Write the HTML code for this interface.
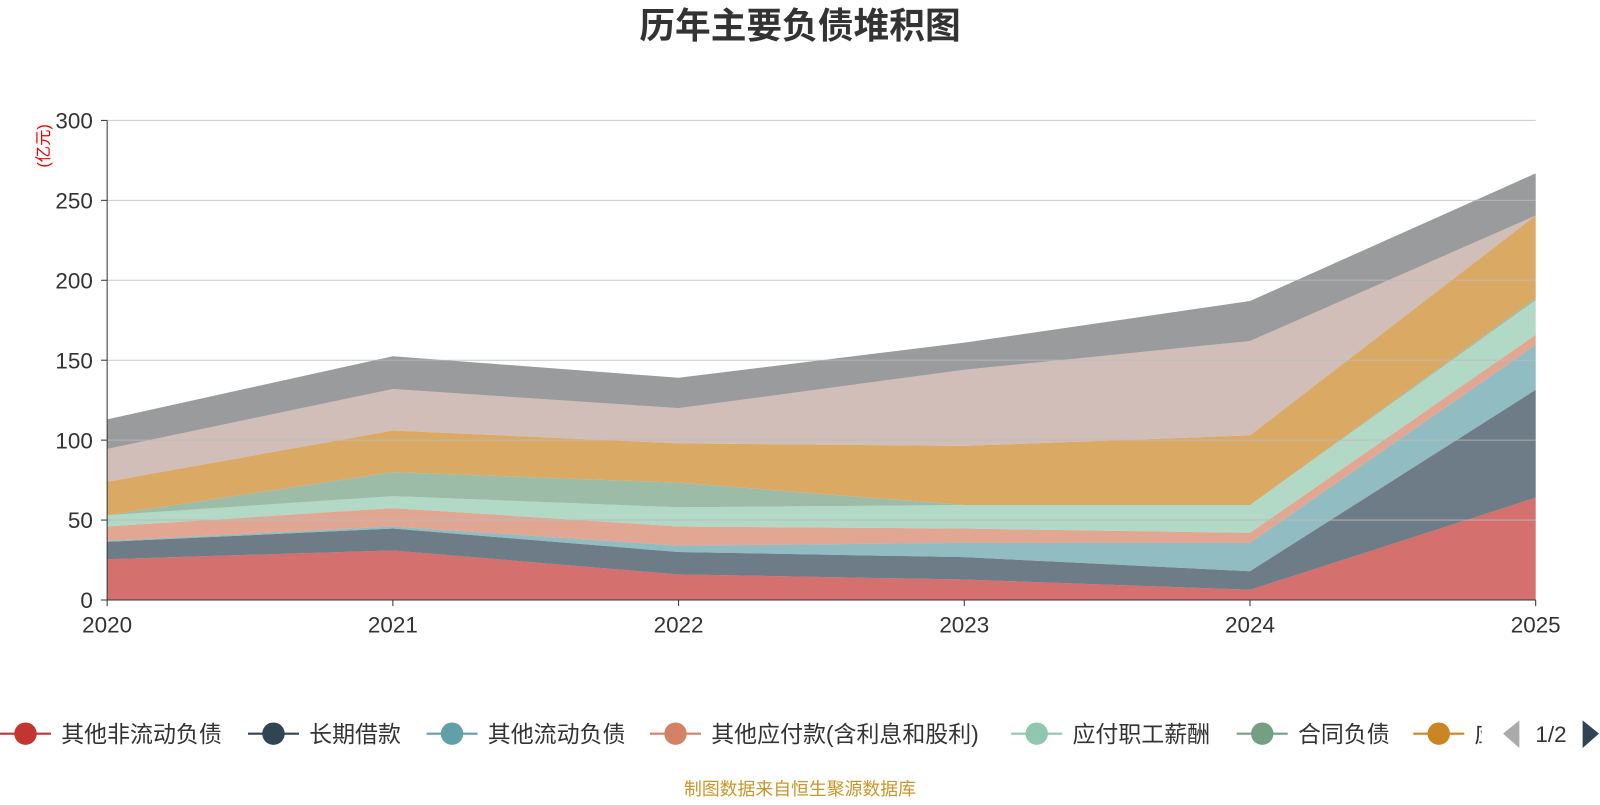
<!DOCTYPE html>
<html><head><meta charset="utf-8">
<style>
body{margin:0;background:#fff;font-family:"Liberation Sans","Noto Sans CJK SC",sans-serif;}
svg text{font-family:"Liberation Sans","Noto Sans CJK SC",sans-serif;}
</style></head>
<body>
<svg id="chart" width="1600" height="800">
<g transform="scale(1.0204)">
<text x="784" y="37" text-anchor="middle" font-size="35" font-weight="bold" fill="#333">历年主要负债堆积图</text>
<text transform="translate(48,143) rotate(-90)" text-anchor="middle" font-size="16" fill="#e00">(亿元)</text>
<g id="areas"></g><g id="grid"></g><g id="axes"></g><g id="legend"></g>
<text x="784" y="779" text-anchor="middle" font-size="17.5" fill="#c8962a">制图数据来自恒生聚源数据库</text>
</g>
</svg>
<script>
const years=['2020','2021','2022','2023','2024','2025'];
const yTicks=[0,50,100,150,200,250,300];
const seriesNames=['其他非流动负债','长期借款','其他流动负债','其他应付款(含利息和股利)','应付职工薪酬','合同负债','应付账款','短期借款','应付票据'];
const sOther=[25.5,31,16,12.8,6.4,64];
const sLong=[10.9,13.7,14,14,11.6,67.5];
const sOtherCur=[0.6,1.3,4,8.9,17.7,28];
const sOtherPay=[9,11.5,12,9,6.3,6.4];
const sStaff=[7,7.5,12,14.7,17.4,21.7];
const sContract=[0,15,15.4,0,0,1.3];
const sPayable=[21,26,24.6,37,43.6,51.6];
const sShort=[20.5,26,22,47.6,59,0];
const sNotes=[18.5,20.5,19,17,25,26.4];
const seriesVals=[sOther,sLong,sOtherCur,sOtherPay,sStaff,sContract,sPayable,sShort,sNotes];
const colors=['#c23531','#2f4554','#61a0a8','#d48265','#91c7ae','#749f83','#ca8622','#bda29a','#6e7074'];
const NS='http://www.w3.org/2000/svg';
const x0=105,x1=1505,y0=588,y1=118;
const X=i=>x0+(x1-x0)*i/(years.length-1);
const Y=v=>y0-(y0-y1)*v/300;
function mk(t,a,p){const e=document.createElementNS(NS,t);for(const k in a)e.setAttribute(k,a[k]);p.appendChild(e);return e;}
const areas=document.getElementById('areas');
let base=years.map(()=>0);
seriesVals.forEach((s,k)=>{
  const top=base.map((b,i)=>b+s[i]);
  let d='M'+top.map((v,i)=>X(i)+','+Y(v)).join('L');
  for(let i=years.length-1;i>=0;i--)d+='L'+X(i)+','+Y(base[i]);
  const p=mk('path',{d:d+'Z',fill:colors[k],'fill-opacity':0.7,stroke:'none'},areas);
  
  
  base=top;
});
const grid=document.getElementById('grid'),axes=document.getElementById('axes');
yTicks.forEach(t=>{
  if(t>0){const l=mk('line',{x1:x0,x2:x1,y1:Y(t),y2:Y(t),stroke:'#bbb','stroke-opacity':0.8},grid);
  
  }
  mk('line',{x1:x0-6,x2:x0,y1:Y(t),y2:Y(t),stroke:'#333'},axes);
  const tx=mk('text',{x:x0-14,y:Y(t)+8,'text-anchor':'end','font-size':22,fill:'#333'},axes);tx.textContent=t;
  
  
});
mk('line',{x1:x0,x2:x0,y1:y1,y2:y0,stroke:'#333'},axes);
mk('line',{x1:x0,x2:x1,y1:y0,y2:y0,stroke:'#333'},axes);
years.forEach((yr,i)=>{
  mk('line',{x1:X(i),x2:X(i),y1:y0,y2:y0+6,stroke:'#333'},axes);
  const tx=mk('text',{x:X(i),y:y0+32,'text-anchor':'middle','font-size':22,fill:'#333'},axes);tx.textContent=yr;
  
  
});
const lg=document.getElementById('legend');
const lx=[0,243,418,637,991,1212,1385];
lx.forEach((x,k)=>{
  const g=mk('g',{},lg);
  
  
  mk('line',{x1:x,x2:x+50,y1:719,y2:719,stroke:colors[k],'stroke-width':2},g);
  mk('circle',{cx:x+25,cy:719,r:11,fill:colors[k]},g);
  const t=mk('text',{x:x+60,y:727,'font-size':22.5,fill:'#333'},g);t.textContent=seriesNames[k];
});
mk('rect',{x:1452,y:695,width:160,height:50,fill:'#fff'},lg);
const pl=mk('path',{d:'M1489,706L1473,719L1489,733Z',fill:'#aaa'},lg);


const pt=mk('text',{x:1520,y:727,'text-anchor':'middle','font-size':22,fill:'#333'},lg);pt.textContent='1/2';


const pn=mk('path',{d:'M1551,706L1567,719L1551,733Z',fill:'#2f4554'},lg);


</script>
</body></html>
